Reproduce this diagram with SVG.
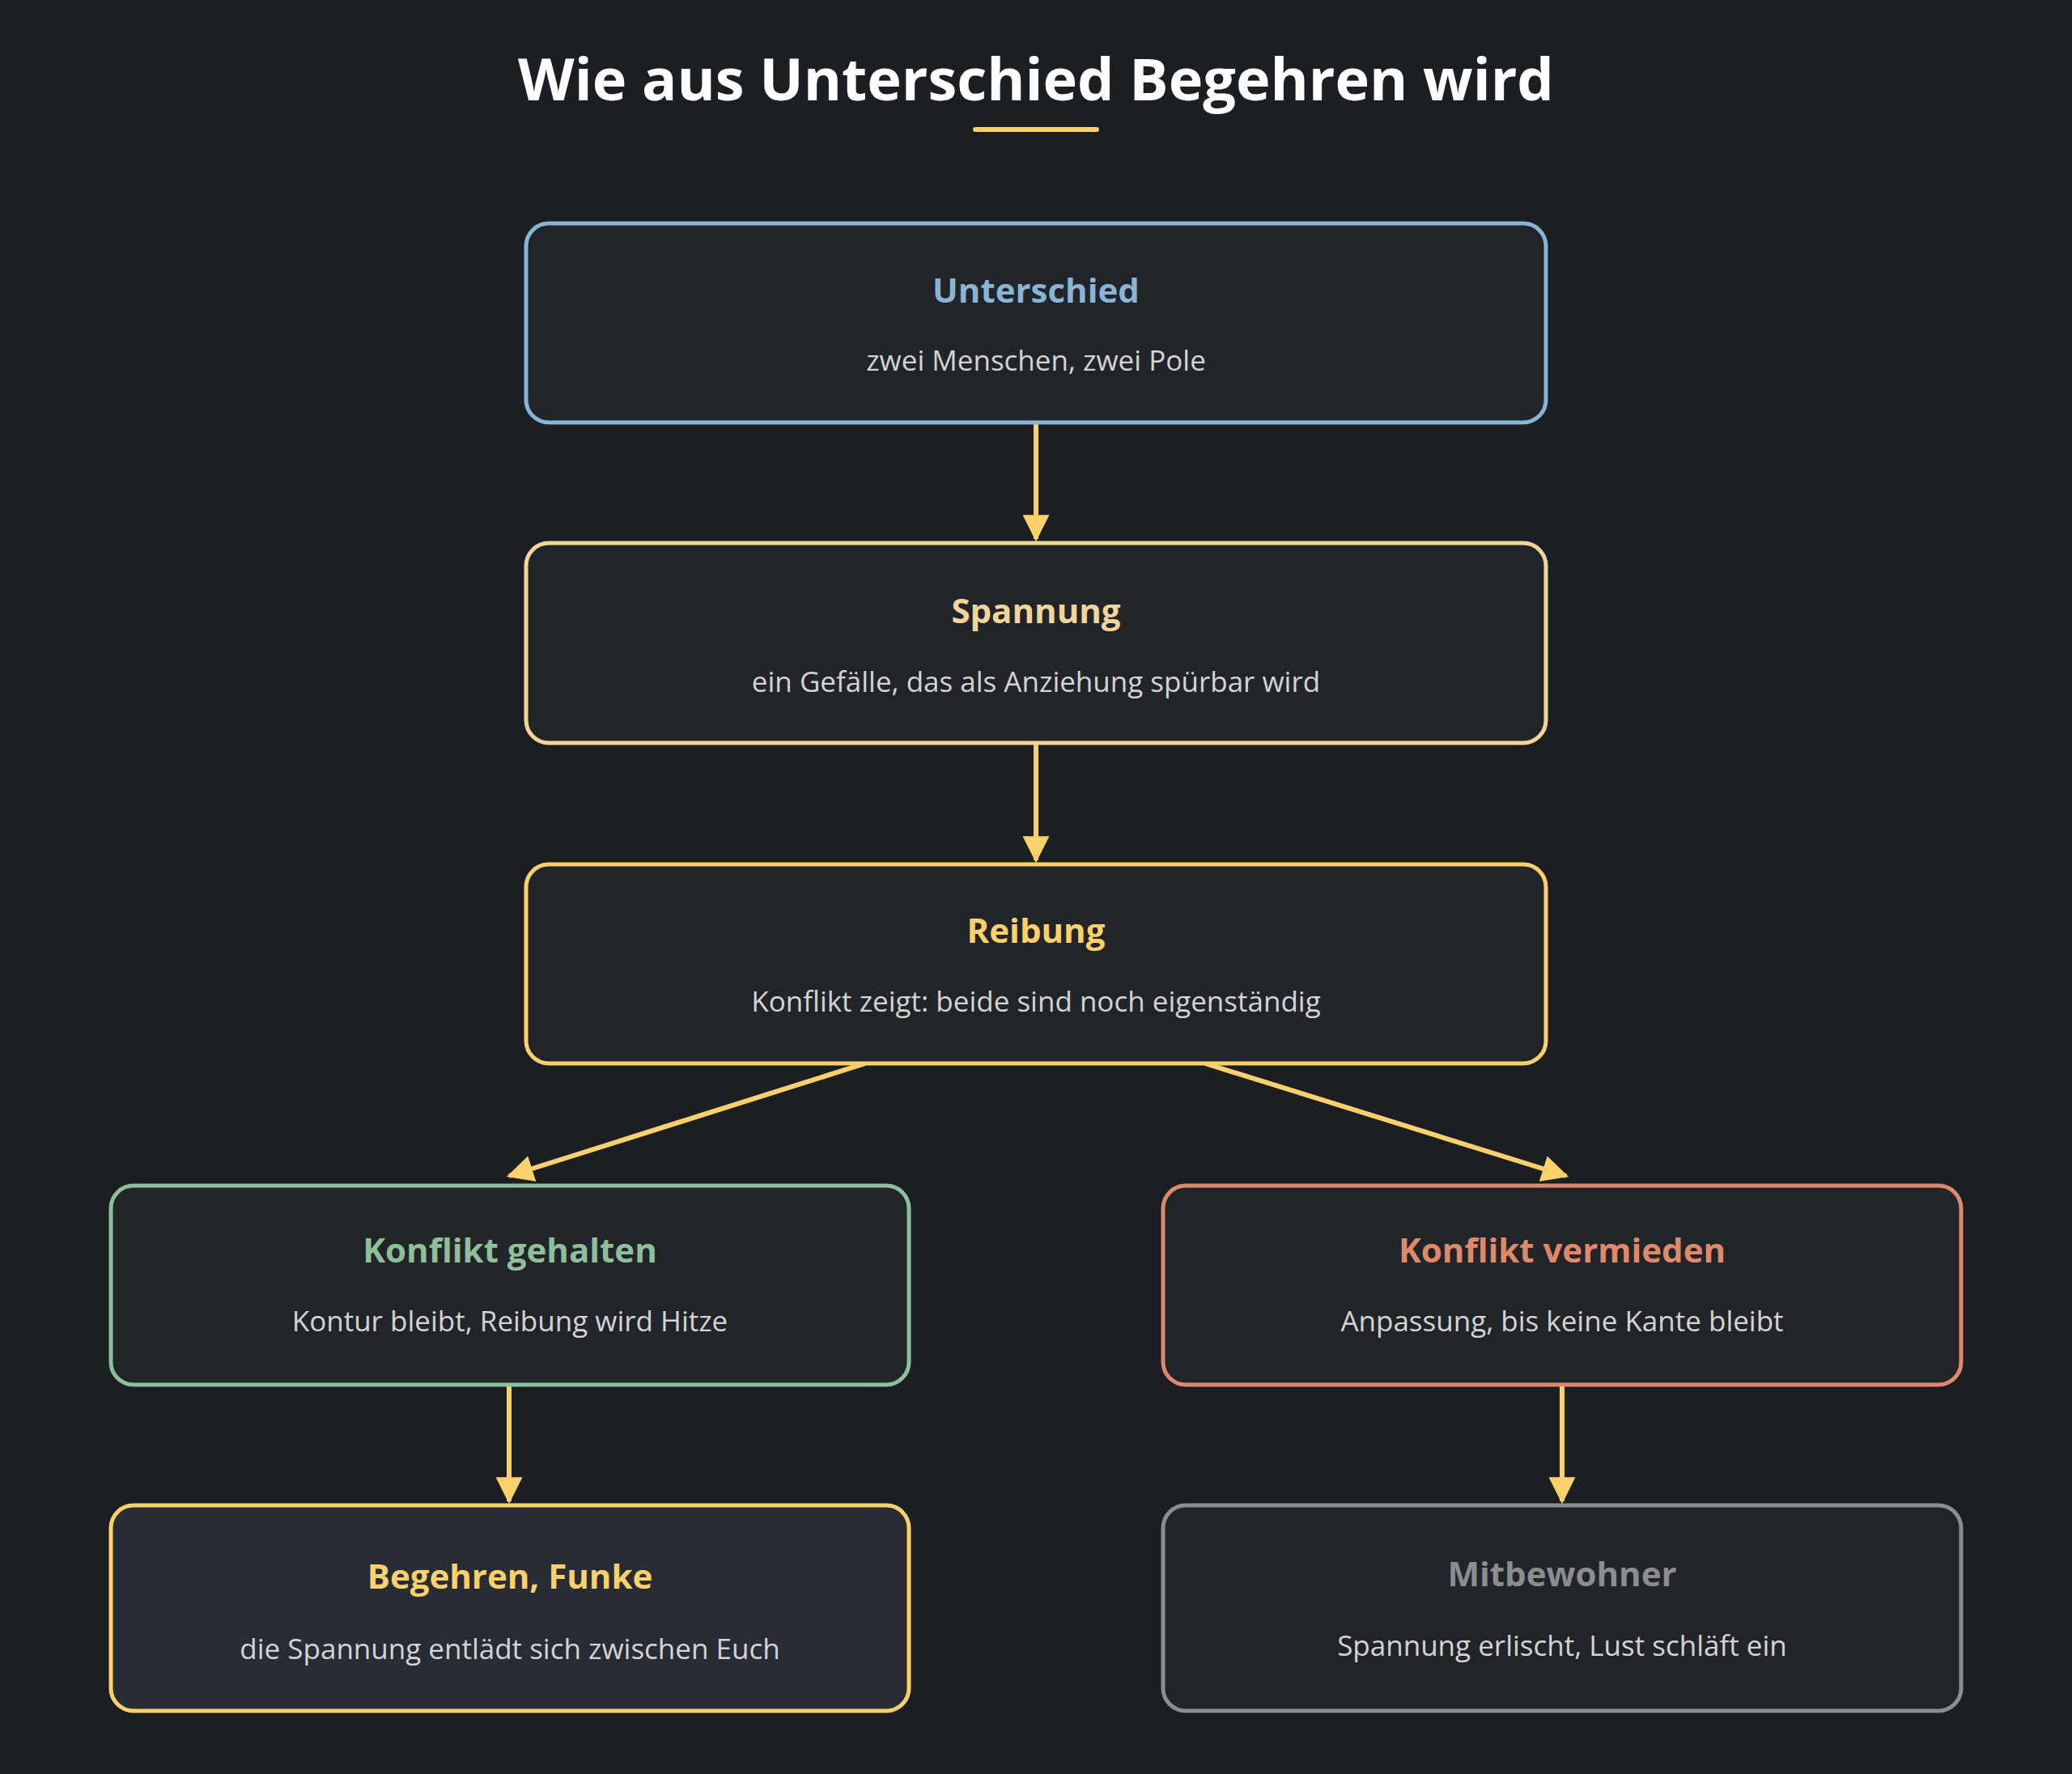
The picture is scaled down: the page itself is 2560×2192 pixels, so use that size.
<svg xmlns="http://www.w3.org/2000/svg" width="2560" height="2192" viewBox="0 0 2560 2192">
<style>
.box{fill:#212529;stroke-width:5}
.t{font-family:"Open Sans","Noto Sans",sans-serif;font-weight:700;font-size:42px;text-anchor:middle}
.s{font-family:"Open Sans","Noto Sans",sans-serif;font-size:35px;fill:#d4d4d4;text-anchor:middle}
.c{stroke:#fcd06b;stroke-width:6;fill:none}
</style>
<defs><marker id="a" viewBox="0 0 10 10" refX="9" refY="5" markerWidth="6" markerHeight="6" markerUnits="userSpaceOnUse" orient="auto"><path d="M0,0L10,5L0,10z" fill="#fcd06b" transform="scale(1)"/></marker>
<marker id="ah" viewBox="0 0 10 10" refX="9" refY="5" markerWidth="5.5" markerHeight="5.5" orient="auto"><path d="M0,0L10,5L0,10z" fill="#fcd06b"/></marker></defs>
<rect width="2560" height="2192" fill="#1b1e23"/>
<text x="1280" y="124" font-family="'Open Sans','Noto Sans',sans-serif" font-weight="700" font-size="72" fill="#ffffff" text-anchor="middle">Wie aus Unterschied Begehren wird</text>
<rect x="1202" y="157" width="156" height="6" rx="3" fill="#fcd06b"/>
<g id="connectors">
<line class="c" x1="1280" y1="522" x2="1280" y2="666" marker-end="url(#ah)"/>
<line class="c" x1="1280" y1="918" x2="1280" y2="1063" marker-end="url(#ah)"/>
<line class="c" x1="1069" y1="1314" x2="629" y2="1453" marker-end="url(#ah)"/>
<line class="c" x1="1489" y1="1314" x2="1935" y2="1453" marker-end="url(#ah)"/>
<line class="c" x1="629" y1="1711" x2="629" y2="1855" marker-end="url(#ah)"/>
<line class="c" x1="1930" y1="1711" x2="1930" y2="1855" marker-end="url(#ah)"/>
</g>
<g id="unterschied"><rect class="box" x="650" y="276" width="1260" height="246" rx="28" stroke="#8ab4d4"/>
<text class="t" x="1280" y="374" fill="#8ab4d4">Unterschied</text><text class="s" x="1280" y="458">zwei Menschen, zwei Pole</text></g>
<g id="spannung"><rect class="box" x="650" y="671" width="1260" height="247" rx="28" stroke="#f3d59b"/>
<text class="t" x="1280" y="770" fill="#f3d59b">Spannung</text><text class="s" x="1280" y="855">ein Gefälle, das als Anziehung spürbar wird</text></g>
<g id="reibung"><rect class="box" x="650" y="1068" width="1260" height="246" rx="28" stroke="#fcd06b"/>
<text class="t" x="1280" y="1165" fill="#fcd06b">Reibung</text><text class="s" x="1280" y="1250">Konflikt zeigt: beide sind noch eigenständig</text></g>
<g id="gehalten"><rect class="box" x="137" y="1465" width="986" height="246" rx="28" stroke="#8fbf9a"/>
<text class="t" x="630" y="1560" fill="#8fbf9a">Konflikt gehalten</text><text class="s" x="630" y="1645">Kontur bleibt, Reibung wird Hitze</text></g>
<g id="vermieden"><rect class="box" x="1437" y="1465" width="986" height="246" rx="28" stroke="#e0896a"/>
<text class="t" x="1930" y="1560" fill="#e0896a">Konflikt vermieden</text><text class="s" x="1930" y="1645">Anpassung, bis keine Kante bleibt</text></g>
<g id="begehren"><rect class="box" x="137" y="1860" width="986" height="254" rx="28" stroke="#fcd06b" style="fill:#282c34"/>
<text class="t" x="630" y="1963" fill="#fcd06b" font-size="50">Begehren, Funke</text><text class="s" x="630" y="2050">die Spannung entlädt sich zwischen Euch</text></g>
<g id="mitbewohner"><rect class="box" x="1437" y="1860" width="986" height="254" rx="28" stroke="#8b8d8f"/>
<text class="t" x="1930" y="1960" fill="#8b8d8f">Mitbewohner</text><text class="s" x="1930" y="2046">Spannung erlischt, Lust schläft ein</text></g>
</svg>
